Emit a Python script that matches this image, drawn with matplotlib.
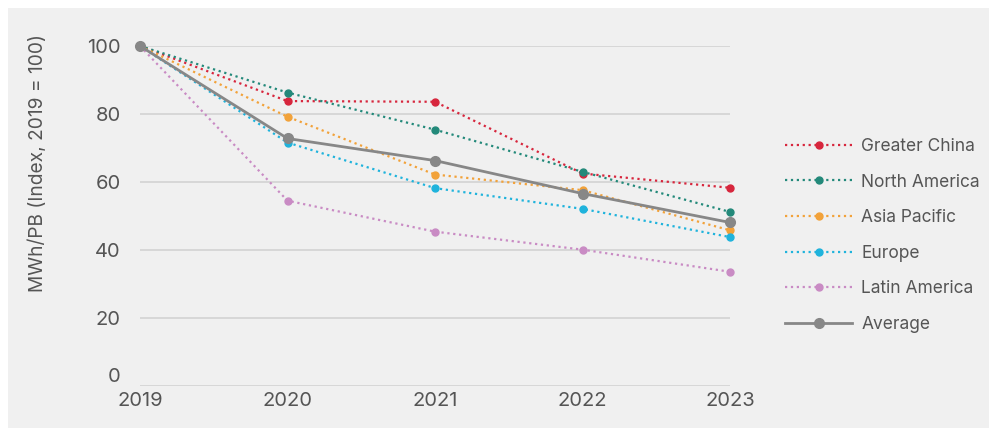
import matplotlib.pyplot as plt
from matplotlib.patches import Rectangle

plt.rcParams['font.family'] = ['Inter', 'DejaVu Sans']

years = [2019, 2020, 2021, 2022, 2023]
greater_china = [100, 83.8, 83.6, 62.5, 58.3]
north_america = [100, 86.3, 75.4, 63.0, 51.2]
asia_pacific = [100, 79.2, 62.2, 57.6, 45.8]
europe = [100, 71.6, 58.2, 52.1, 43.8]
latin_america = [100, 54.5, 45.4, 40.1, 33.6]
average = [100, 72.8, 66.3, 56.6, 48.1]

series = [
    ("Greater China", greater_china, "#d7263d"),
    ("North America", north_america, "#23897a"),
    ("Asia Pacific", asia_pacific, "#f2a23a"),
    ("Europe", europe, "#1fb3dc"),
    ("Latin America", latin_america, "#c98bc4"),
]

fig = plt.figure(figsize=(9.97, 4.34), dpi=100, facecolor="white")
fig.patches.append(Rectangle((8 / 997, 6 / 434), 981 / 997, 420 / 434,
                             transform=fig.transFigure, facecolor="#f0f0f0",
                             edgecolor="none", zorder=-10))
ax = fig.add_axes([140 / 997, 1 - 386 / 434, 590 / 997, 340 / 434])
ax.set_facecolor("none")

for name, vals, col in series:
    ax.plot(years, vals, linestyle=":", color=col, lw=1.6, marker="o",
            ms=5, label=name, clip_on=False, zorder=3)
ax.plot(years, average, linestyle="-", color="#878787", lw=2.0, marker="o",
        ms=7, label="Average", clip_on=False, zorder=4)

ax.set_xlim(2019, 2023)
ax.set_ylim(0, 100)
ax.set_xticks(years)
ax.set_yticks([0, 20, 40, 60, 80, 100])
ax.grid(axis="y", color="#d2d2d2", lw=1.2)
ax.set_axisbelow(True)
for s in ax.spines.values():
    s.set_visible(False)
ax.tick_params(length=0, labelsize=14.5, colors="#555555")
ax.tick_params(axis="y", pad=14)
ax.tick_params(axis="x", pad=4)
# the "0" label sits a bit above its gridline in the original
ax.get_yticklabels()[0].set_verticalalignment("bottom")
ax.set_ylabel("MWh/PB (Index, 2019 = 100)", fontsize=13.8, color="#555555")
ax.yaxis.set_label_coords(-0.158, 0.655)

leg = ax.legend(loc="center left", bbox_to_anchor=(1.081, 0.443), frameon=False,
                fontsize=12.5, labelcolor="#555555", handlelength=3.9,
                labelspacing=1.07, handletextpad=0.5, borderaxespad=0)

fig.savefig("out.png", dpi=100, facecolor=fig.get_facecolor())
